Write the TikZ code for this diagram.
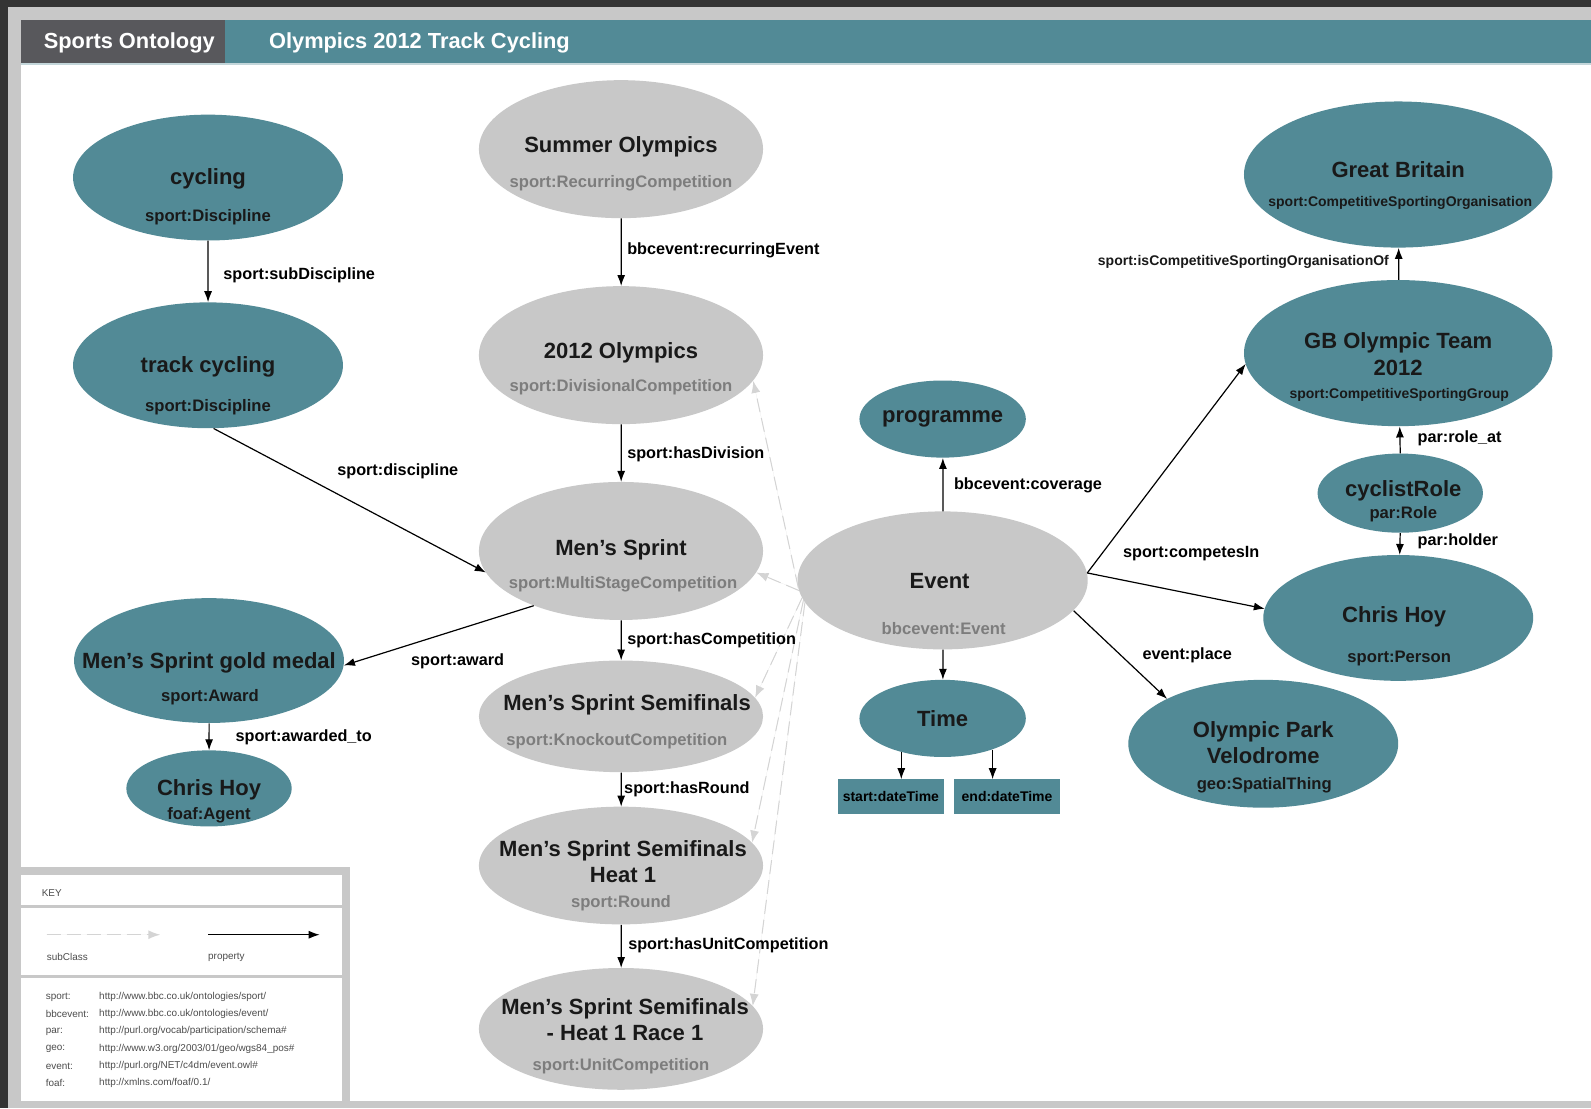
\documentclass[tikz,border=0pt]{standalone}
\usepackage{fontspec}
\setmainfont{Liberation Sans}
\usetikzlibrary{arrows.meta,positioning,shapes.geometric}

\definecolor{ontoteal}{RGB}{82,138,150}
\definecolor{ontogrey}{RGB}{200,200,200}
\definecolor{ontodark}{RGB}{88,88,92}
\definecolor{pagebg}{RGB}{52,52,52}
\definecolor{typegrey}{RGB}{125,125,125}
\definecolor{subgrey}{RGB}{212,212,212}

\begin{document}
\begin{tikzpicture}[
  x=1pt, y=-1pt, scale=1.0147, transform shape,
  tealell/.style={ellipse, fill=ontoteal, inner sep=0pt},
  greyell/.style={ellipse, fill=ontogrey, inner sep=0pt},
  dtbox/.style={rectangle, fill=ontoteal, inner sep=0pt, minimum width=104, minimum height=34, font=\fontsize{13.8}{16}\selectfont\bfseries},
  hdr/.style={font=\fontsize{21.5}{24}\selectfont\bfseries, text=white, inner sep=0pt, anchor=west},
  ttl/.style={font=\fontsize{21.7}{26}\selectfont\bfseries, text=black!90, align=center, inner sep=0pt},
  typ/.style={font=\fontsize{16.4}{18}\selectfont\bfseries, text=black!90, inner sep=0pt},
  gtyp/.style={typ, text=typegrey},
  smtyp/.style={font=\fontsize{13.8}{16}\selectfont\bfseries, text=black!90, inner sep=0pt},
  elab/.style={font=\fontsize{16}{18}\selectfont\bfseries, inner sep=0pt},
  keytxt/.style={font=\fontsize{9.8}{11}\selectfont, text=black!70, inner sep=0pt, anchor=west},
  arrow/.style={-{Latex[length=11pt,width=8pt]}, line width=1.2pt},
  subarrow/.style={-{Latex[length=12pt,width=9pt]}, draw=subgrey, fill=subgrey, line width=1pt, dash pattern=on 14pt off 6pt}
]
\useasboundingbox (0,0) rectangle (1568,1092);

% page and header
\fill[pagebg] (0,0) rectangle (1568,1092);
\fill[ontogrey] (8,7) rectangle (1568,1092);
\fill[white] (21,62) rectangle (1568,1085);
\fill[ontoteal] (21,20) rectangle (1568,62);
\fill[ontodark] (21,20) rectangle (222,62);
\draw[ontoteal!35, line width=2pt] (21,63.5) -- (1568,63.5);
\node[hdr] (hdrA) at (43,42) {Sports Ontology};
\node[hdr] (hdrB) at (265,42) {Olympics 2012 Track Cycling};

% Nodes
\node[tealell, minimum width=266, minimum height=124] (cycling) at (205,175) {};
\node[ttl] (cyclingT) at (205,176) {cycling};
\node[typ] (cyclingC) at (205,214) {sport:Discipline};

\node[tealell, minimum width=266, minimum height=124] (track) at (205,360) {};
\node[ttl] (trackT) at (205,362) {track cycling};
\node[typ] (trackC) at (205,401) {sport:Discipline};

\node[greyell, minimum width=280, minimum height=136] (summer) at (612,147) {};
\node[ttl] (summerT) at (612,145) {Summer Olympics};
\node[gtyp] (summerC) at (612,181) {sport:RecurringCompetition};

\node[greyell, minimum width=280, minimum height=136] (olym) at (612,350) {};
\node[ttl] (olymT) at (612,348) {2012 Olympics};
\node[gtyp] (olymC) at (612,382) {sport:DivisionalCompetition};

\node[greyell, minimum width=280, minimum height=136] (sprint) at (612,543) {};
\node[ttl] (sprintT) at (612,542) {Men's Sprint};
\node[gtyp] (sprintC) at (614,576) {sport:MultiStageCompetition};

\node[tealell, minimum width=266, minimum height=123] (gold) at (206,651) {};
\node[ttl] (goldT) at (206,653) {Men's Sprint gold medal};
\node[typ] (goldC) at (207,687) {sport:Award};

\node[tealell, minimum width=163, minimum height=75] (hoyA) at (206,777) {};
\node[ttl] (hoyAT) at (206,778) {Chris Hoy};
\node[typ] (hoyAC) at (206,803) {foaf:Agent};

\node[greyell, minimum width=280, minimum height=110] (semi) at (612,706) {};
\node[ttl] (semiT) at (618,695) {Men's Sprint Semifinals};
\node[gtyp] (semiC) at (608,730) {sport:KnockoutCompetition};

\node[greyell, minimum width=280, minimum height=116] (heat) at (612,853) {};
\node[ttl] (heatT) at (614,849) {Men's Sprint Semifinals\\Heat 1};
\node[gtyp] (heatC) at (612,890) {sport:Round};

\node[greyell, minimum width=280, minimum height=120] (race) at (612,1014) {};
\node[ttl] (raceT) at (616,1005) {Men's Sprint Semifinals\\- Heat 1 Race 1};
\node[gtyp] (raceC) at (612,1051) {sport:UnitCompetition};

\node[tealell, minimum width=164, minimum height=76] (prog) at (929,413) {};
\node[ttl] (progT) at (929,413) {programme};

\node[greyell, minimum width=286, minimum height=136] (event) at (929,572) {};
\node[ttl] (eventT) at (926,573) {Event};
\node[gtyp] (eventC) at (930,619) {bbcevent:Event};

\node[tealell, minimum width=164, minimum height=76] (time) at (929,708) {};
\node[ttl] (timeT) at (929,708) {Time};
\node[dtbox] (startdt) at (878,785) {start:dateTime};
\node[dtbox] (enddt) at (992.5,785) {end:dateTime};

\node[tealell, minimum width=304, minimum height=144] (gb) at (1378,172) {};
\node[ttl] (gbT) at (1378,167) {Great Britain};
\node[smtyp] (gbC) at (1380,200) {sport:CompetitiveSportingOrganisation};

\node[tealell, minimum width=304, minimum height=144] (gbteam) at (1378,348) {};
\node[ttl] (gbteamT) at (1378,349) {GB Olympic Team\\2012};
\node[smtyp] (gbteamC) at (1379,389) {sport:CompetitiveSportingGroup};

\node[tealell, minimum width=163, minimum height=78] (role) at (1380,486) {};
\node[ttl] (roleT) at (1383,484) {cyclistRole};
\node[typ] (roleC) at (1383,507) {par:Role};

\node[tealell, minimum width=266, minimum height=124] (hoyP) at (1378,609) {};
\node[ttl] (hoyPT) at (1374,608) {Chris Hoy};
\node[typ] (hoyPC) at (1379,649) {sport:Person};

\node[tealell, minimum width=266, minimum height=126] (velo) at (1245,733) {};
\node[ttl] (veloT) at (1245,732) {Olympic Park\\Velodrome};
\node[typ] (veloC) at (1246,774) {geo:SpatialThing};

% subclass links
\draw[subarrow] (event.183) -- (olym.-11);
\draw[subarrow] (event.184) -- (sprint.-9);
\draw[subarrow] (event.187) -- (semi.8);
\draw[subarrow] (event.188) -- (heat.10);
\draw[subarrow] (event.189) -- (race.10);

% Arrows
\draw[arrow] (cycling) -- (track);
\draw[arrow] (track.-85) -- (sprint.189);
\draw[arrow] (summer) -- (olym);
\draw[arrow] (olym) -- (sprint);
\draw[arrow] (sprint.212) -- (gold.-2);
\draw[arrow] (gold) -- (hoyA);
\draw[arrow] (sprint) -- (semi);
\draw[arrow] (semi) -- (heat);
\draw[arrow] (heat) -- (race);
\draw[arrow] (event) -- (prog);
\draw[arrow] (event) -- (time);
\draw[arrow] (time.-141) -- (time.-141 |- startdt.north);
\draw[arrow] (time.-32) -- (time.-32 |- enddt.north);
\draw[arrow] (event.3) -- (gbteam.184);
\draw[arrow] (event.3) -- (hoyP.176);
\draw[arrow] (event.-13) -- (velo.155);
\draw[arrow] (gbteam) -- (gb);
\draw[arrow] (role) -- (gbteam);
\draw[arrow] (role) -- (hoyP);

% Arrow labels
\node[elab, anchor=west] (lsubdisc) at (220,271) {sport:subDiscipline};
\node[elab] (ldisc) at (392,464) {sport:discipline};
\node[elab, anchor=west] (lrecur) at (618,247) {bbcevent:recurringEvent};
\node[elab, anchor=west] (ldiv) at (618,448) {sport:hasDivision};
\node[elab] (laward) at (451,652) {sport:award};
\node[elab, anchor=west] (lawardto) at (232,727) {sport:awarded\_to};
\node[elab, anchor=west] (lcomp) at (618,631) {sport:hasCompetition};
\node[elab, anchor=west] (lround) at (615,778) {sport:hasRound};
\node[elab, anchor=west] (lunit) at (619,932) {sport:hasUnitCompetition};
\node[elab, anchor=west] (lcover) at (940,478) {bbcevent:coverage};
\node[elab] (lcompetes) at (1174,546) {sport:competesIn};
\node[elab] (lplace) at (1170,646) {event:place};
\node[smtyp, anchor=east] (lorg) at (1369,258) {sport:isCompetitiveSportingOrganisationOf};
\node[elab, anchor=west] (lroleat) at (1397,432) {par:role\_at};
\node[elab, anchor=west] (lholder) at (1397,533) {par:holder};

% Key
\fill[ontogrey] (21,854) rectangle (345,1085);
\fill[white] (21,862) rectangle (337,892);
\fill[white] (21,895) rectangle (337,961);
\fill[white] (21,964) rectangle (337,1085);
\node[keytxt] (keyT) at (41,880) {KEY};
\coordinate (kSubA) at (46,921);
\coordinate (kSubB) at (158,921);
\coordinate (kPropA) at (205,921);
\coordinate (kPropB) at (315,921);
\draw[subarrow, line width=1.5pt] (kSubA) -- (kSubB);
\draw[arrow] (kPropA) -- (kPropB);
\node[keytxt] (kSubT) at (46,943) {subClass};
\node[keytxt] (kPropT) at (205,943) {property};
\foreach \pre/\nsurl [count=\i] in {
  {sport:}/{http://www.bbc.co.uk/ontologies/sport/},
  {bbcevent:}/{http://www.bbc.co.uk/ontologies/event/},
  {par:}/{http://purl.org/vocab/participation/schema\#},
  {geo:}/{http://www.w3.org/2003/01/geo/wgs84\_pos\#},
  {event:}/{http://purl.org/NET/c4dm/event.owl\#},
  {foaf:}/{http://xmlns.com/foaf/0.1/}}{
  \node[keytxt] (ns\i) at (45,{965.5+17*\i}) {\pre};
  \node[keytxt] (nsurl\i) at (97.6,{965.5+17*\i}) {\nsurl};
}

\end{tikzpicture}
\end{document}
